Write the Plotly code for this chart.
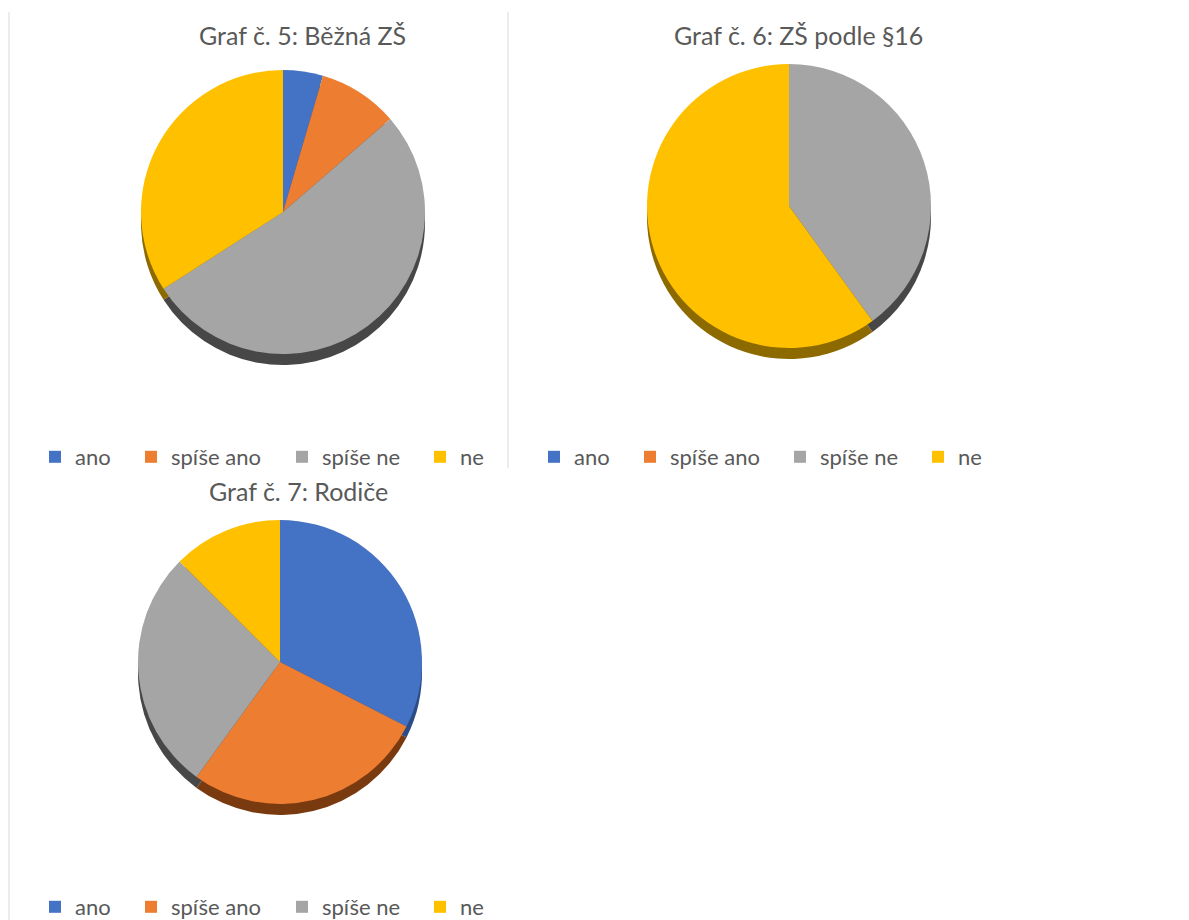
import plotly.graph_objects as go

# page offset (browser body margin) compensation
OFF = 8
W, H = 1189 - OFF, 920 - OFF

labels = ["ano", "spíše ano", "spíše ne", "ne"]
colors = ["#4472C4", "#ED7D31", "#A5A5A5", "#FFC000"]
side_colors = ["#2B4C87", "#7A3A10", "#474747", "#8C6A00"]

titles = ["Graf č. 5: Běžná ZŠ", "Graf č. 6: ZŠ podle §16", "Graf č. 7: Rodiče"]
values_5 = [2, 4, 23, 15]
values_6 = [0, 0, 2, 3]
values_7 = [13, 11, 11, 5]
all_values = [values_5, values_6, values_7]

FONT = "Lato"

# layout (page pixel positions, from top-left)
pie_centers = [(283, 212), (789, 206), (280, 662)]
pie_d = 284
DEPTH = 11
title_pos = [(302, 35), (798, 35), (298, 491)]
legend_sq_x = [[49, 145, 296, 434], [548, 644, 794, 932], [49, 145, 296, 434]]
legend_y = [457, 457, 907]


def px(x):
    return (x - OFF) / W


def py(y):
    return 1 - (y - OFF) / H


def dom(cx, cy):
    return dict(x=[px(cx - pie_d / 2), px(cx + pie_d / 2)],
                y=[py(cy + pie_d / 2), py(cy - pie_d / 2)])


fig = go.Figure()
for i, vals in enumerate(all_values):
    cx, cy = pie_centers[i]
    # darker copy below: the visible side wall of the tilted pie
    fig.add_trace(go.Pie(
        labels=labels, values=vals,
        marker=dict(colors=side_colors, line=dict(width=0)),
        sort=False, direction="clockwise", rotation=0,
        textinfo="none", hoverinfo="skip",
        domain=dom(cx, cy + DEPTH),
        showlegend=False,
    ))
    fig.add_trace(go.Pie(
        labels=labels, values=vals,
        marker=dict(colors=colors, line=dict(width=0)),
        sort=False, direction="clockwise", rotation=0,
        textinfo="none", hoverinfo="label+value+percent",
        domain=dom(cx, cy),
        showlegend=False,
        name=titles[i],
    ))

# legends: one legend per entry so every chart has its own legend row
layout_legends = {}
k = 0
for i in range(3):
    for j, lab in enumerate(labels):
        k += 1
        name = "legend" if k == 1 else f"legend{k}"
        fig.add_trace(go.Scatter(
            x=[None], y=[None], mode="markers",
            marker=dict(symbol="square", size=12, color=colors[j], line=dict(width=0)),
            name=lab, legend=name, showlegend=True, hoverinfo="skip",
        ))
        sx = legend_sq_x[i][j]
        layout_legends[name] = dict(
            x=px(sx + 6 - 20), y=py(legend_y[i]),
            xref="container", yref="container",
            xanchor="left", yanchor="middle", orientation="h",
            font=dict(family=FONT, size=22, color="#595959"),
            bgcolor="rgba(0,0,0,0)", borderwidth=0,
        )

annotations = []
for i, t in enumerate(titles):
    x, y = title_pos[i]
    annotations.append(dict(text=t, x=px(x), y=py(y), xref="paper", yref="paper",
                            showarrow=False, xanchor="center", yanchor="middle",
                            font=dict(family=FONT, size=25, color="#595959")))

shapes = [
    dict(type="line", xref="paper", yref="paper", x0=px(9), x1=px(9), y0=py(920), y1=py(12),
         line=dict(color="#D9D9D9", width=1)),
    dict(type="line", xref="paper", yref="paper", x0=px(508), x1=px(508), y0=py(468), y1=py(12),
         line=dict(color="#D9D9D9", width=1)),
]

fig.update_layout(
    width=W, height=H,
    margin=dict(l=0, r=0, t=0, b=0, autoexpand=False),
    paper_bgcolor="white",
    plot_bgcolor="white",
    xaxis=dict(visible=False),
    yaxis=dict(visible=False),
    annotations=annotations,
    shapes=shapes,
    **layout_legends,
)

fig.write_html("out.html")
